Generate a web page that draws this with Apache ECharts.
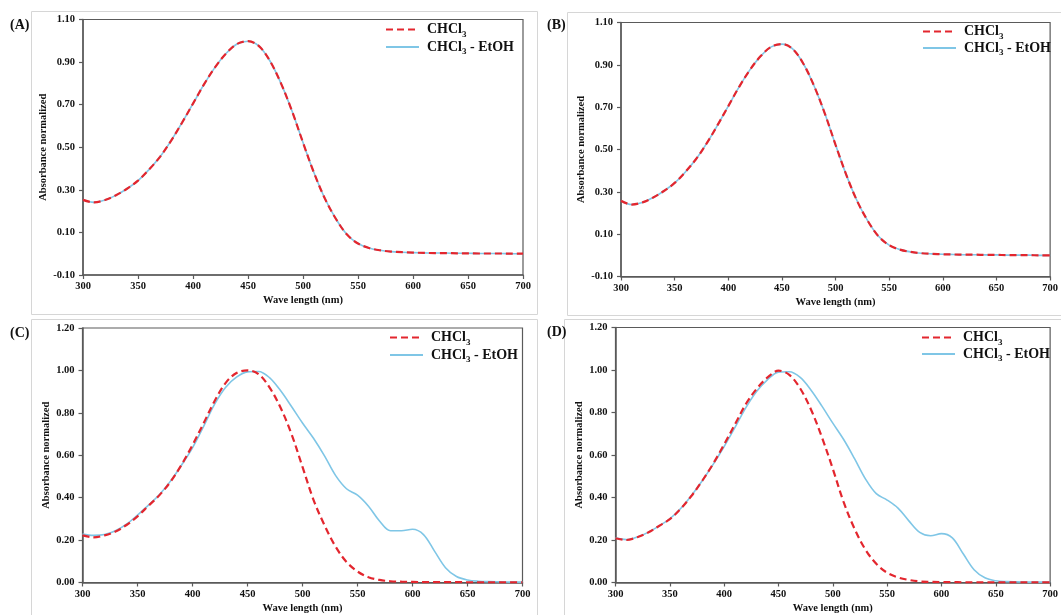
<!DOCTYPE html>
<html><head><meta charset="utf-8">
<script src="https://cdn.jsdelivr.net/npm/echarts@6/dist/echarts.min.js"></script>
<style>html,body{margin:0;padding:0;background:#fff}#c{width:1061px;height:615px}</style>
</head><body><div id="c"></div>
<script>
// ---------- data ----------
const wavelength = [300,310,320,330,340,350,360,370,380,390,400,410,420,430,440,450,460,470,480,490,500,
                    510,520,530,540,550,560,570,580,590,600,610,620,630,640,650,660,670,680,690,700];
const xTicks = [300,350,400,450,500,550,600,650,700];
const yTicksAB = [-0.10,0.10,0.30,0.50,0.70,0.90,1.10];
const yTicksCD = [0.00,0.20,0.40,0.60,0.80,1.00,1.20];
const panelLabels = ['(A)','(B)','(C)','(D)'];
const seriesNames = ['CHCl3','CHCl3 - EtOH'];
const xTitle = 'Wave length (nm)';
const yTitle = 'Absorbance normalized';

const aCHCl3 = [0.253,0.241,0.252,0.275,0.305,0.343,0.395,0.455,0.530,0.615,0.705,0.795,0.875,0.940,0.985,0.998,0.975,0.905,0.800,0.670,0.522,
                0.380,0.258,0.163,0.090,0.048,0.027,0.016,0.010,0.007,0.005,0.004,0.003,0.003,0.002,0.002,0.001,0.001,0.001,0.000,0.000];
const aEtOH  = [0.253,0.241,0.252,0.275,0.305,0.343,0.395,0.455,0.530,0.615,0.705,0.795,0.875,0.940,0.985,0.998,0.975,0.905,0.800,0.670,0.522,
                0.380,0.258,0.163,0.090,0.048,0.027,0.016,0.010,0.007,0.005,0.004,0.003,0.003,0.002,0.002,0.001,0.001,0.001,0.000,0.000];
const bCHCl3 = [0.258,0.240,0.250,0.273,0.304,0.342,0.394,0.455,0.530,0.615,0.705,0.795,0.875,0.940,0.985,0.998,0.975,0.905,0.800,0.670,0.522,
                0.380,0.258,0.163,0.090,0.048,0.027,0.016,0.010,0.007,0.005,0.004,0.003,0.003,0.002,0.002,0.001,0.001,0.001,0.000,0.000];
const bEtOH  = [0.258,0.240,0.250,0.273,0.304,0.342,0.394,0.455,0.530,0.615,0.705,0.795,0.875,0.940,0.985,0.998,0.975,0.905,0.800,0.670,0.522,
                0.380,0.258,0.163,0.090,0.048,0.027,0.016,0.010,0.007,0.005,0.004,0.003,0.003,0.002,0.002,0.001,0.001,0.001,0.000,0.000];
const cCHCl3 = [0.222,0.213,0.222,0.240,0.271,0.312,0.362,0.412,0.475,0.555,0.648,0.750,0.855,0.940,0.988,1.000,0.983,0.920,0.825,0.700,0.545,
                0.390,0.270,0.170,0.097,0.052,0.025,0.012,0.006,0.004,0.003,0.002,0.002,0.002,0.002,0.001,0.001,0.001,0.001,0.001,0.001];
const cEtOH  = [0.228,0.222,0.226,0.244,0.275,0.318,0.365,0.415,0.478,0.553,0.635,0.735,0.840,0.920,0.968,0.993,0.995,0.966,0.905,0.830,0.752,
                0.680,0.597,0.505,0.442,0.412,0.360,0.290,0.244,0.244,0.251,0.226,0.148,0.070,0.028,0.012,0.006,0.004,0.003,0.002,0.002];
const dCHCl3 = [0.208,0.200,0.213,0.235,0.266,0.298,0.347,0.408,0.480,0.560,0.650,0.745,0.840,0.912,0.965,0.997,0.977,0.913,0.813,0.683,0.535,
                0.378,0.253,0.155,0.088,0.046,0.024,0.012,0.005,0.003,0.002,0.002,0.001,0.001,0.001,0.001,0.001,0.001,0.001,0.001,0.001];
const dEtOH  = [0.210,0.202,0.214,0.236,0.266,0.300,0.348,0.410,0.480,0.557,0.640,0.730,0.823,0.900,0.955,0.990,0.992,0.965,0.905,0.830,0.750,
                0.673,0.583,0.488,0.418,0.388,0.350,0.290,0.236,0.220,0.230,0.210,0.135,0.060,0.022,0.008,0.004,0.003,0.002,0.002,0.002];

// ---------- layout / style ----------
const FONT = "'Liberation Serif','Times New Roman',serif";
const AXIS = '#5a5a5a';
const RED = '#e3262e';
const BLUE = '#7fc6e6';

const panels = [
  {grid:{left:83, top:19.5, width:440, height:255.5}, y:yTicksAB, ymin:-0.1, ymax:1.1, data:[aEtOH,aCHCl3],
   legend:{left:385, top:22.5, gap:1}, yGap:29, label:{x:10,y:25}, frame:[31.5,11.5,506,303]},
  {grid:{left:621, top:22.5, width:436, height:254}, y:yTicksAB, ymin:-0.1, ymax:1.1, data:[bEtOH,bCHCl3],
   legend:{left:922, top:24.5, gap:0}, yGap:30, label:{x:547,y:25}, frame:[567.5,12.5,500,303]},
  {grid:{left:82.5, top:328, width:440, height:254.5}, y:yTicksCD, ymin:0, ymax:1.2, data:[cEtOH,cCHCl3],
   legend:{left:389, top:330.5, gap:1}, yGap:29, label:{x:10,y:333}, frame:[31.5,319.5,506,300]},
  {grid:{left:615.5, top:327.5, width:440, height:255}, y:yTicksCD, ymin:0, ymax:1.2, data:[dEtOH,dCHCl3],
   legend:{left:921, top:330.5, gap:0}, yGap:29, label:{x:547,y:332}, frame:[564.5,319.5,500,300]}
];

const txt = {fontFamily:FONT, fontWeight:'bold', color:'#111'};

const option = {
  backgroundColor:'#fff',
  animation:false,
  grid: panels.map(p => Object.assign({show:true, borderColor:AXIS, borderWidth:1.2, backgroundColor:'transparent'}, p.grid)),
  xAxis: panels.map((p,i) => ({
    type:'value', gridIndex:i, min:300, max:700, interval:50,
    axisLine:{show:true, onZero:false, lineStyle:{color:AXIS, width:1.5}},
    axisTick:{show:true, length:4, lineStyle:{color:AXIS, width:1.2}, customValues:xTicks},
    axisLabel:Object.assign({fontSize:10.5, margin:6, customValues:xTicks}, txt),
    splitLine:{show:false},
    name:xTitle, nameLocation:'middle', nameGap:20,
    nameTextStyle:Object.assign({fontSize:10.5}, txt)
  })),
  yAxis: panels.map((p,i) => ({
    type:'value', gridIndex:i, min:p.ymin, max:p.ymax, interval:0.2,
    axisLine:{show:true, onZero:false, lineStyle:{color:AXIS, width:1.5}},
    axisTick:{show:true, length:4, lineStyle:{color:AXIS, width:1.2}, customValues:p.y},
    axisLabel:Object.assign({fontSize:10.5, margin:8, customValues:p.y, formatter:v => v.toFixed(2)}, txt),
    splitLine:{show:false},
    name:yTitle, nameLocation:'middle', nameGap:p.yGap,
    nameTextStyle:Object.assign({fontSize:10.5}, txt)
  })),
  legend: panels.map(p => ({
    orient:'vertical', left:p.legend.left, top:p.legend.top, padding:0,
    itemGap:p.legend.gap, itemWidth:33, itemHeight:14,
    data:seriesNames.slice(),
    itemStyle:{opacity:0},
    formatter:name => name.replace('CHCl3','CHCl{s|3}'),
    textStyle:Object.assign({fontSize:14, padding:[0,0,0,3],
      rich:{s:{fontSize:9, fontFamily:FONT, fontWeight:'bold', color:'#111', padding:[10,0,0,0]}}}, txt)
  })),
  series: [],
  graphic: []
};

panels.forEach((p,i) => {
  option.series.push({
    name:seriesNames[1], type:'line', xAxisIndex:i, yAxisIndex:i, symbol:'none', smooth:0.35,
    data:wavelength.map((w,k) => [w, p.data[0][k]]),
    lineStyle:{color:BLUE, width:1.6}, itemStyle:{color:BLUE}, z:2
  });
  option.series.push({
    name:seriesNames[0], type:'line', xAxisIndex:i, yAxisIndex:i, symbol:'none', smooth:0.35,
    data:wavelength.map((w,k) => [w, p.data[1][k]]),
    lineStyle:{color:RED, width:2.2, type:[7,4]}, itemStyle:{color:RED}, z:3
  });
  option.graphic.push({
    type:'rect', silent:true, z:-1,
    shape:{x:p.frame[0], y:p.frame[1], width:p.frame[2], height:p.frame[3]},
    style:{fill:'none', stroke:'#d6d6d6', lineWidth:1}
  });
  option.graphic.push({
    type:'text', silent:true, x:p.label.x, y:p.label.y,
    style:{text:panelLabels[i], fontFamily:FONT, fontWeight:'bold', fontSize:14, fill:'#111', verticalAlign:'middle'}
  });
});

const chart = echarts.init(document.getElementById('c'), null, {renderer:'canvas'});
chart.setOption(option);
</script></body></html>
